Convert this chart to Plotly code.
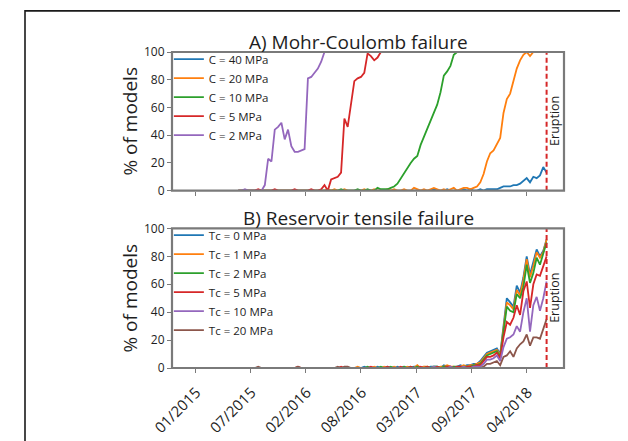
import pandas as pd
import plotly.graph_objects as go

# ---------------- data ----------------
start_date = "2015-06-06"          # first model date (12-day sampling)
n_dates = 94
dates = pd.date_range(start_date, periods=n_dates, freq="12D")
eruption_date = "2018-06-26"

tick_dates = ["2015-01-01", "2015-07-20", "2016-02-05", "2016-08-23",
              "2017-03-11", "2017-09-27", "2018-04-15"]
tick_labels = ["01/2015", "07/2015", "02/2016", "08/2016",
               "03/2017", "09/2017", "04/2018"]
x_range = ["2014-10-09", "2018-08-28"]

# Panel A: Mohr-Coulomb failure (% of models)
mc_names = ["C = 40 MPa", "C = 20 MPa", "C = 10 MPa", "C = 5 MPa", "C = 2 MPa"]
mc_c40 = [0, 0, 0, 0, 0, 0, 0, 0, 0, 0,
          0, 0, 0, 0, 0, 0, 0, 0, 0, 0,
          0, 0, 0, 0, 0, 0, 0, 0, 0, 0,
          0, 0, 0, 0, 0, 0, 0, 0, 0, 0,
          0, 0, 0, 0, 0, 0, 0, 0, 0, 0,
          0, 0, 0, 0, 0, 0, 0, 0, 0, 1,
          0, 0, 0, 1, 0, 0, 0, 0, 1, 0,
          1, 0, 0, 1, 0, 1, 1, 1, 1, 2,
          3, 3, 3, 4, 4, 5, 7, 9, 6, 10,
          9, 11, 17, 13]
mc_c20 = [0, 0, 0, 0, 0, 0, 0, 0, 0, 0,
          0, 0, 0, 0, 0, 0, 0, 0, 0, 0,
          0, 0, 0, 0, 0, 0, 0, 1, 0, 1,
          0, 0, 1, 0, 0, 0, 0, 0, 1, 0,
          0, 1, 0, 0, 0, 1, 0, 1, 0, 0,
          1, 0, 0, 2, 1, 0, 1, 0, 1, 2,
          1, 0, 1, 0, 1, 2, 0, 1, 2, 2,
          1, 2, 3, 6, 12, 21, 27, 29, 33, 38,
          56, 66, 70, 79, 88, 94, 98, 100, 97, 100,
          100, 100, 100, 100]
mc_c10 = [0, 0, 0, 0, 0, 0, 0, 0, 0, 0,
          0, 0, 0, 0, 0, 0, 0, 0, 0, 0,
          0, 0, 0, 0, 0, 0, 0, 0, 0, 0,
          0, 1, 0, 0, 0, 0, 1, 0, 0, 1,
          0, 0, 2, 1, 1, 1, 2, 3, 5, 9,
          13, 16, 20, 23, 25, 33, 39, 44, 50, 57,
          62, 71, 83, 86, 90, 98, 100, 100, 100, 100,
          100, 100, 100, 100, 100, 100, 100, 100, 100, 100,
          100, 100, 100, 100, 100, 100, 100, 100, 100, 100,
          100, 100, 100, 100]
mc_c5 = [0, 0, 0, 0, 0, 0, 1, 0, 0, 0,
         0, 1, 0, 0, 0, 0, 0, 1, 0, 0,
         0, 0, 1, 0, 0, 1, 4, 0, 8, 9,
         10, 13, 52, 46, 62, 79, 81, 82, 85, 99,
         97, 94, 96, 100, 100, 100, 100, 100, 100, 100,
         100, 100, 100, 100, 100, 100, 100, 100, 100, 100,
         100, 100, 100, 100, 100, 100, 100, 100, 100, 100,
         100, 100, 100, 100, 100, 100, 100, 100, 100, 100,
         100, 100, 100, 100, 100, 100, 100, 100, 100, 100,
         100, 100, 100, 100]
mc_c2 = [0, 0, 1, 0, 0, 0, 0, 0, 4, 23,
         21, 44, 46, 49, 37, 44, 32, 28, 28, 29,
         30, 81, 82, 85, 88, 93, 100, 100, 100, 100,
         100, 100, 100, 100, 100, 100, 100, 100, 100, 100,
         100, 100, 100, 100, 100, 100, 100, 100, 100, 100,
         100, 100, 100, 100, 100, 100, 100, 100, 100, 100,
         100, 100, 100, 100, 100, 100, 100, 100, 100, 100,
         100, 100, 100, 100, 100, 100, 100, 100, 100, 100,
         100, 100, 100, 100, 100, 100, 100, 100, 100, 100,
         100, 100, 100, 100]

# Panel B: Reservoir tensile failure (% of models)
rt_names = ["Tc = 0 MPa", "Tc = 1 MPa", "Tc = 2 MPa", "Tc = 5 MPa",
            "Tc = 10 MPa", "Tc = 20 MPa"]
rt_t0 = [0, 0, 0, 0, 0, 0, 0, 0, 0, 0,
         0, 0, 0, 0, 0, 0, 0, 0, 0, 0,
         0, 0, 0, 0, 0, 0, 0, 0, 0, 0,
         0, 0, 0, 0, 0, 0, 0, 0, 1, 0,
         0, 0, 1, 0, 0, 1, 0, 0, 1, 0,
         1, 0, 0, 1, 1, 0, 1, 0, 1, 1,
         1, 0, 2, 1, 1, 0, 1, 2, 1, 2,
         2, 3, 3, 5, 8, 11, 12, 13, 14, 10,
         30, 50, 47, 44, 59, 54, 65, 80, 67, 76,
         85, 80, 84, 92]
rt_t1 = [0, 0, 0, 0, 0, 0, 0, 0, 0, 0,
         0, 0, 0, 0, 0, 0, 0, 0, 0, 0,
         0, 0, 0, 0, 0, 0, 0, 0, 0, 0,
         0, 0, 0, 0, 0, 0, 1, 0, 0, 0,
         0, 1, 0, 0, 1, 0, 0, 1, 0, 0,
         0, 1, 0, 0, 2, 0, 1, 1, 0, 1,
         0, 1, 1, 2, 1, 1, 0, 1, 2, 1,
         2, 2, 3, 4, 7, 10, 11, 12, 13, 9,
         28, 47, 45, 42, 56, 52, 63, 78, 65, 73,
         83, 79, 83, 92]
rt_t2 = [0, 0, 0, 0, 0, 0, 0, 0, 0, 0,
         0, 0, 0, 0, 0, 0, 0, 0, 0, 0,
         0, 0, 0, 0, 0, 0, 0, 0, 0, 0,
         0, 0, 0, 0, 0, 0, 0, 0, 0, 1,
         0, 0, 0, 1, 0, 0, 1, 0, 0, 0,
         1, 0, 1, 0, 1, 0, 0, 1, 0, 1,
         1, 0, 1, 1, 0, 1, 1, 0, 1, 1,
         1, 2, 2, 3, 6, 9, 10, 11, 12, 8,
         26, 44, 41, 40, 53, 50, 58, 74, 61, 68,
         79, 74, 82, 90]
rt_t5 = [0, 0, 0, 0, 0, 0, 0, 0, 0, 0,
         0, 0, 0, 0, 0, 0, 0, 0, 1, 0,
         0, 0, 0, 0, 0, 0, 0, 0, 0, 0,
         0, 1, 0, 0, 0, 0, 0, 0, 0, 0,
         1, 0, 0, 0, 0, 1, 0, 0, 0, 1,
         0, 0, 1, 0, 0, 1, 0, 1, 0, 0,
         1, 0, 0, 1, 1, 0, 1, 1, 0, 1,
         1, 1, 2, 2, 5, 8, 8, 9, 11, 7,
         22, 33, 31, 36, 45, 38, 55, 62, 43, 60,
         67, 66, 73, 80]
rt_t10 = [0, 0, 0, 0, 0, 0, 0, 0, 0, 0,
          0, 0, 0, 0, 0, 0, 0, 0, 0, 0,
          0, 0, 0, 0, 0, 0, 0, 0, 0, 0,
          0, 0, 0, 0, 0, 0, 0, 0, 0, 0,
          0, 0, 0, 0, 0, 0, 0, 0, 0, 0,
          0, 0, 0, 0, 0, 0, 0, 0, 0, 1,
          0, 0, 0, 0, 1, 0, 0, 0, 1, 0,
          0, 1, 1, 1, 3, 6, 6, 7, 9, 5,
          15, 21, 22, 24, 30, 26, 40, 50, 26, 45,
          51, 41, 50, 62]
rt_t20 = [0, 0, 0, 0, 0, 0, 1, 0, 0, 0,
          0, 0, 0, 0, 0, 0, 0, 0, 1, 0,
          0, 0, 0, 0, 0, 0, 0, 0, 0, 0,
          1, 0, 1, 1, 0, 0, 0, 0, 0, 0,
          0, 0, 0, 0, 0, 0, 0, 0, 0, 0,
          0, 0, 0, 0, 0, 0, 0, 0, 0, 0,
          0, 0, 0, 0, 0, 0, 0, 0, 0, 0,
          0, 0, 0, 0, 1, 3, 3, 4, 5, 2,
          8, 9, 12, 8, 14, 17, 19, 24, 16, 22,
          22, 21, 28, 35]

y_ticks = [0, 20, 40, 60, 80, 100]
colors = ["#1f77b4", "#ff7f0e", "#2ca02c", "#d62728", "#9467bd", "#8c564b"]

# ---------------- figure ----------------
FONT = "Open Sans"
TXT = "#1e1e1e"
SPINE = "#7a7a7a"

fig = go.Figure()

mc_series = [mc_c40, mc_c20, mc_c10, mc_c5, mc_c2]
for name, vals, col in zip(mc_names, mc_series, colors):
    fig.add_trace(go.Scatter(x=dates, y=vals, mode="lines", name=name,
                             line=dict(color=col, width=1.8),
                             xaxis="x", yaxis="y", legend="legend"))

rt_series = [rt_t0, rt_t1, rt_t2, rt_t5, rt_t10, rt_t20]
for name, vals, col in zip(rt_names, rt_series, colors):
    fig.add_trace(go.Scatter(x=dates, y=vals, mode="lines", name=name,
                             line=dict(color=col, width=1.8),
                             xaxis="x2", yaxis="y2", legend="legend2"))

top_dom = [0.5613, 1.0]
bot_dom = [0.0, 0.4416]

xcommon = dict(type="date", range=x_range, tickmode="array",
               tickvals=tick_dates, ticktext=tick_labels, automargin=False,
               ticks="outside", ticklen=4, tickwidth=1.2, tickcolor=SPINE,
               showline=False, showgrid=False, zeroline=False)
ycommon = dict(range=[0, 100], tickmode="array", tickvals=y_ticks, automargin=False,
               ticks="outside", ticklen=4, tickwidth=1.2, tickcolor=SPINE,
               showline=False, showgrid=False, zeroline=False,
               tickfont=dict(family=FONT, size=12, color=TXT),
               title=dict(text="% of models", standoff=1,
                          font=dict(family=FONT, size=19, color=TXT)))

fig.update_layout(
    width=620, height=433,
    margin=dict(l=164, r=64, t=44, b=73, autoexpand=False),
    paper_bgcolor="white", plot_bgcolor="white",
    font=dict(family=FONT, color=TXT),
    xaxis=dict(domain=[0, 1], anchor="y", showticklabels=False, **xcommon),
    xaxis2=dict(domain=[0, 1], anchor="y2", showticklabels=True, tickangle=-45,
                ticklabelstandoff=5, ticklabelshift=1,
                tickfont=dict(family=FONT, size=15, color=TXT), **xcommon),
    yaxis=dict(domain=top_dom, anchor="x", **ycommon),
    yaxis2=dict(domain=bot_dom, anchor="x2", **ycommon),
    legend=dict(x=-0.008, y=1.0234, xanchor="left", yanchor="top",
                bgcolor="rgba(0,0,0,0)", font=dict(family=FONT, size=11.5, color=TXT),
                itemwidth=30, tracegroupgap=0),
    legend2=dict(x=-0.008, y=0.4665, xanchor="left", yanchor="top",
                 bgcolor="rgba(0,0,0,0)", font=dict(family=FONT, size=11.5, color=TXT),
                 itemwidth=30, tracegroupgap=0),
    showlegend=True,
)

# panel titles
fig.add_annotation(text="A) Mohr-Coulomb failure", xref="paper", yref="paper",
                   x=0.4745, y=1.0326, xanchor="center", yanchor="middle",
                   showarrow=False, font=dict(family=FONT, size=19, color=TXT))
fig.add_annotation(text="B) Reservoir tensile failure", xref="paper", yref="paper",
                   x=0.4745, y=0.474, xanchor="center", yanchor="middle",
                   showarrow=False, font=dict(family=FONT, size=19, color=TXT))

# eruption lines and labels
for xr, yr in [("x", "y"), ("x2", "y2")]:
    fig.add_shape(type="line", xref=xr, yref=yr, x0=eruption_date, x1=eruption_date,
                  y0=0, y1=100, line=dict(color="#d62728", width=2, dash="5px,3px"))
    fig.add_annotation(text="Eruption", xref=xr, yref=yr, x=eruption_date, y=50,
                       xshift=8, textangle=-90, showarrow=False,
                       font=dict(family=FONT, size=12.5, color=TXT))

# axes frames drawn above the curves (like matplotlib spines)
for xr, yr in [("x domain", "y domain"), ("x2 domain", "y2 domain")]:
    fig.add_shape(type="rect", xref=xr, yref=yr, x0=0, x1=1, y0=0, y1=1,
                  layer="above", line=dict(color=SPINE, width=2.2),
                  fillcolor="rgba(0,0,0,0)")

# outer frame of the figure panel
fig.add_shape(type="rect", xref="paper", yref="paper", x0=-0.375, x1=1.3,
              y0=-0.5, y1=1.13, line=dict(color="#1a1a1a", width=1.6),
              fillcolor="rgba(0,0,0,0)")

fig.write_html("out.html")
